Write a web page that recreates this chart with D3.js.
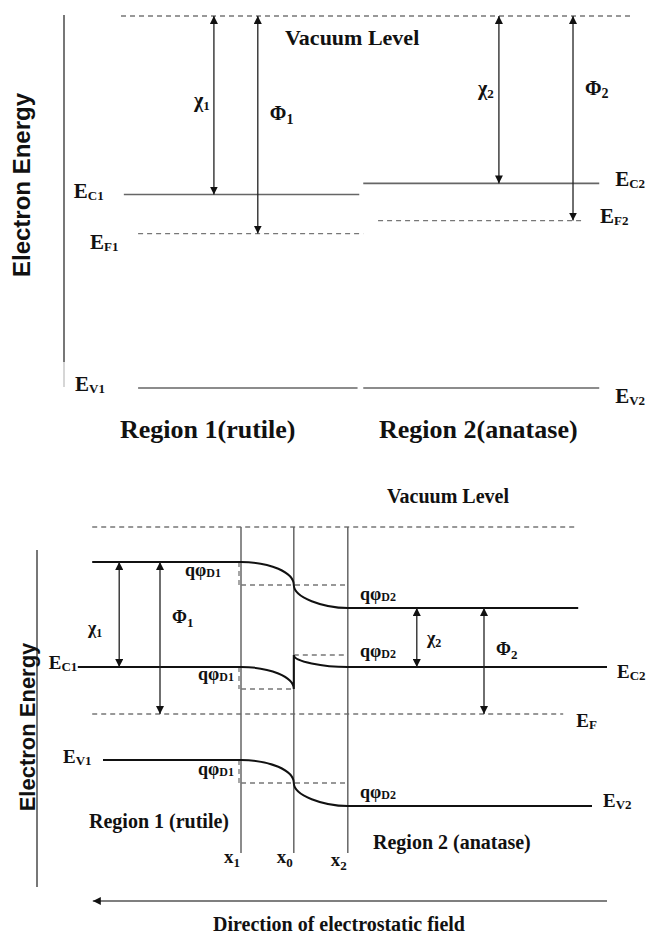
<!DOCTYPE html>
<html>
<head>
<meta charset="utf-8">
<script src="https://cdn.jsdelivr.net/npm/d3@7"></script>
<style>
  body { margin: 0; background: #fff; }
  text { font-family: "Liberation Serif", "Times New Roman", serif; font-weight: bold; fill: #111; }
  .axisTitle { font-family: "Liberation Sans", Arial, sans-serif; }
</style>
</head>
<body>
<div id="chart"></div>
<script>
// ---- top panel: separate regions, energies below vacuum (arb. units), position 0-100
var topLevelNames  = ["Vac", "EC1", "EF1", "EV1", "EC2", "EF2", "EV2"];
var topLevelEnergy = [0, -4.8, -5.85, -10, -4.5, -5.5, -10];
var topLevelStart  = [10, 10.5, 13, 13, 52.5, 55.1, 52.5];
var topLevelEnd    = [100, 51.8, 52.5, 51.5, 93.9, 91.4, 93.9];

var topArrowNames = ["χ1", "Φ1", "χ2", "Φ2"];
var topArrowPos   = [26.3, 34, 76.3, 89.3];
var topArrowFrom  = [0, 0, 0, 0];
var topArrowTo    = [-4.8, -5.85, -4.5, -5.5];

// ---- bottom panel: joined regions with band bending
var interfaceNames = ["x1", "x0", "x2"];
var interfacePos   = [34, 42.8, 51.8];

var bandNames      = ["Evac", "EC", "EV"];
var bandStart      = [9.2, 6.8, 11];
var bandEnd        = [90.2, 95, 92.5];
var bandLeft       = [-1.75, -7, -11.65];
var bandJunctionL  = [-2.9, -8.1, -12.8];
var bandJunctionR  = [-2.9, -6.4, -12.8];
var bandRight      = [-4.05, -7, -13.95];

var vacuumRef  = 0;       // reference vacuum line
var vacuumSpan = [9.2, 90.2];
var fermiLevel = -9.35;
var fermiSpan  = [9.2, 87.7];
var interfaceBottom = -16.3;

var botArrowNames = ["χ1", "Φ1", "χ2", "Φ2"];
var botArrowPos   = [13.7, 20.5, 63.3, 74.5];
var botArrowFrom  = [-1.75, -1.75, -4.05, -4.05];
var botArrowTo    = [-7, -9.35, -7, -9.35];

var fieldSpan = [9.3, 95];

var width = 648, height = 937;

var svg = d3.select("#chart").append("svg")
    .attr("width", width)
    .attr("height", height);

var defs = svg.append("defs");
function marker(id, orient) {
  defs.append("marker")
      .attr("id", id)
      .attr("viewBox", "0 0 10 10")
      .attr("refX", 10).attr("refY", 5)
      .attr("markerWidth", 8).attr("markerHeight", 8)
      .attr("markerUnits", "userSpaceOnUse")
      .attr("orient", orient)
    .append("path")
      .attr("d", "M0,0 L10,5 L0,10 Z")
      .attr("fill", "#111");
}
marker("head", "auto");
marker("headStart", "auto-start-reverse");

// label with subscript
function label(g, x, y, main, sub, fsMain, fsSub, dySub) {
  var t = g.append("text").attr("x", x).attr("y", y).style("font-size", fsMain + "px");
  t.append("tspan").text(main);
  if (sub) t.append("tspan").attr("dy", dySub).style("font-size", fsSub + "px").text(sub);
  return t;
}

// ================= TOP PANEL =================
var xT = d3.scaleLinear().domain([0, 100]).range([64, 634]);
var yT = d3.scaleLinear().domain([0, -10]).range([16, 388]);

var topG = svg.append("g");

// axis line
topG.append("line").attr("x1", 64).attr("x2", 64).attr("y1", 15).attr("y2", 362)
    .attr("stroke", "#555").attr("stroke-width", 1.6);
topG.append("line").attr("x1", 64).attr("x2", 64).attr("y1", 362).attr("y2", 387)
    .attr("stroke", "#ccc").attr("stroke-width", 1.6);

topG.append("text").attr("class", "axisTitle")
    .attr("transform", "translate(30,185) rotate(-90)")
    .attr("text-anchor", "middle")
    .style("font-size", "24px")
    .text("Electron Energy");

topLevelNames.forEach(function(n, i) {
  var dashed = n === "Vac" || n.indexOf("EF") === 0;
  topG.append("line")
      .attr("x1", xT(topLevelStart[i])).attr("x2", xT(topLevelEnd[i]))
      .attr("y1", yT(topLevelEnergy[i])).attr("y2", yT(topLevelEnergy[i]))
      .attr("stroke", dashed ? "#777" : "#666")
      .attr("stroke-width", dashed ? 1.3 : 1.6)
      .attr("stroke-dasharray", dashed ? "5,4" : null);
});

topArrowNames.forEach(function(n, i) {
  topG.append("line")
      .attr("x1", xT(topArrowPos[i])).attr("x2", xT(topArrowPos[i]))
      .attr("y1", yT(topArrowFrom[i])).attr("y2", yT(topArrowTo[i]))
      .attr("stroke", "#222").attr("stroke-width", 1.3)
      .attr("marker-start", "url(#headStart)")
      .attr("marker-end", "url(#head)");
});

// level labels
var iEC1 = 1, iEF1 = 2, iEV1 = 3, iEC2 = 4, iEF2 = 5, iEV2 = 6;
label(topG, xT(topLevelStart[iEC1]) - 50, yT(topLevelEnergy[iEC1]) + 3, "E", "C1", 21, 13, 2);
label(topG, xT(topLevelStart[iEF1]) - 48, yT(topLevelEnergy[iEF1]) + 15, "E", "F1", 21, 13, 2);
label(topG, xT(topLevelStart[iEV1]) - 63, yT(topLevelEnergy[iEV1]) + 3, "E", "V1", 21, 13, 2);
label(topG, xT(topLevelEnd[iEC2]) + 16, yT(topLevelEnergy[iEC2]) + 3, "E", "C2", 21, 13, 2);
label(topG, xT(topLevelEnd[iEF2]) + 15, yT(topLevelEnergy[iEF2]) + 2, "E", "F2", 21, 13, 2);
label(topG, xT(topLevelEnd[iEV2]) + 16, yT(topLevelEnergy[iEV2]) + 15, "E", "V2", 21, 13, 2);

// arrow labels
label(topG, xT(topArrowPos[0]) - 20, 107, "χ", "1", 20, 13, 3);
label(topG, xT(topArrowPos[1]) + 12, 120, "Φ", "1", 20, 14, 4);
label(topG, xT(topArrowPos[2]) - 21, 95, "χ", "2", 20, 13, 3);
label(topG, xT(topArrowPos[3]) + 12, 95, "Φ", "2", 20, 14, 3);

topG.append("text").attr("x", 285).attr("y", 45).style("font-size", "22px").text("Vacuum Level");
topG.append("text").attr("x", 120).attr("y", 438).style("font-size", "26px").text("Region 1(rutile)");
topG.append("text").attr("x", 379).attr("y", 438).style("font-size", "26px").text("Region 2(anatase)");

// ================= BOTTOM PANEL =================
var xB = d3.scaleLinear().domain([0, 100]).range([37, 637]);
var yB = d3.scaleLinear().domain([0, -15]).range([527, 827]);

var bot = svg.append("g");

bot.append("line").attr("x1", 37).attr("x2", 37).attr("y1", 550).attr("y2", 887)
    .attr("stroke", "#555").attr("stroke-width", 1.6);

bot.append("text").attr("class", "axisTitle")
    .attr("transform", "translate(35,727) rotate(-90)")
    .attr("text-anchor", "middle")
    .style("font-size", "22px")
    .text("Electron Energy");

var dashStyle = function(sel) {
  return sel.attr("stroke", "#777").attr("stroke-width", 1.3).attr("stroke-dasharray", "5,4");
};

// vacuum reference and Fermi level
dashStyle(bot.append("line")
    .attr("x1", xB(vacuumSpan[0])).attr("x2", xB(vacuumSpan[1]))
    .attr("y1", yB(vacuumRef)).attr("y2", yB(vacuumRef)));
dashStyle(bot.append("line")
    .attr("x1", xB(fermiSpan[0])).attr("x2", xB(fermiSpan[1]))
    .attr("y1", yB(fermiLevel)).attr("y2", yB(fermiLevel)));

// interfaces
interfacePos.forEach(function(p) {
  bot.append("line")
      .attr("x1", xB(p)).attr("x2", xB(p))
      .attr("y1", yB(vacuumRef)).attr("y2", yB(interfaceBottom))
      .attr("stroke", "#666").attr("stroke-width", 1.5);
});

var px1 = xB(interfacePos[0]), px0 = xB(interfacePos[1]), px2 = xB(interfacePos[2]);

// dashed guides at junction levels
bandNames.forEach(function(n, i) {
  if (bandJunctionL[i] === bandJunctionR[i]) {
    dashStyle(bot.append("line").attr("x1", px1).attr("x2", px2)
        .attr("y1", yB(bandJunctionL[i])).attr("y2", yB(bandJunctionL[i])));
  } else {
    dashStyle(bot.append("line").attr("x1", px1).attr("x2", px0)
        .attr("y1", yB(bandJunctionL[i])).attr("y2", yB(bandJunctionL[i])));
    dashStyle(bot.append("line").attr("x1", px0).attr("x2", px2)
        .attr("y1", yB(bandJunctionR[i])).attr("y2", yB(bandJunctionR[i])));
  }
  // short dashed verticals beside x1
  dashStyle(bot.append("line").attr("x1", px1 - 2).attr("x2", px1 - 2)
      .attr("y1", yB(bandLeft[i])).attr("y2", yB(bandJunctionL[i])));
});

// bent bands
var k = 0.55;
bandNames.forEach(function(n, i) {
  var yL = yB(bandLeft[i]), yJL = yB(bandJunctionL[i]), yJR = yB(bandJunctionR[i]), yR = yB(bandRight[i]);
  var p = d3.path();
  p.moveTo(xB(bandStart[i]), yL);
  p.lineTo(px1, yL);
  p.bezierCurveTo(px1 + k * (px0 - px1), yL, px0, yJL - k * (yJL - yL), px0, yJL);
  if (yJR !== yJL) p.lineTo(px0, yJR);
  p.bezierCurveTo(px0, yJR + k * (yR - yJR), px0 + k * (px2 - px0), yR, px2, yR);
  p.lineTo(xB(bandEnd[i]), yR);
  bot.append("path").attr("d", p.toString())
      .attr("fill", "none").attr("stroke", "#111").attr("stroke-width", 2);
});

// chi / phi arrows
botArrowNames.forEach(function(n, i) {
  bot.append("line")
      .attr("x1", xB(botArrowPos[i])).attr("x2", xB(botArrowPos[i]))
      .attr("y1", yB(botArrowFrom[i])).attr("y2", yB(botArrowTo[i]))
      .attr("stroke", "#222").attr("stroke-width", 1.3)
      .attr("marker-start", "url(#headStart)")
      .attr("marker-end", "url(#head)");
});

// field arrow
bot.append("line")
    .attr("x1", xB(fieldSpan[1])).attr("x2", xB(fieldSpan[0]))
    .attr("y1", 901).attr("y2", 901)
    .attr("stroke", "#555").attr("stroke-width", 1.6)
    .attr("marker-end", "url(#head)");

// labels
bot.append("text").attr("x", 448).attr("y", 503).attr("text-anchor", "middle")
    .style("font-size", "20px").text("Vacuum Level");

label(bot, 185, 576, "qφ", "D1", 18, 12, 1);
label(bot, 198, 680, "qφ", "D1", 18, 12, 1);
label(bot, 198, 775, "qφ", "D1", 18, 12, 1);
label(bot, 360, 600, "qφ", "D2", 18, 12, 1);
label(bot, 360, 657, "qφ", "D2", 18, 12, 1);
label(bot, 360, 798, "qφ", "D2", 18, 12, 1);

label(bot, xB(bandStart[1]) - 29, yB(bandLeft[1]) + 2, "E", "C1", 19, 13, 2);
label(bot, xB(bandStart[2]) - 40, yB(bandLeft[2]) + 3, "E", "V1", 19, 13, 2);
label(bot, xB(bandEnd[1]) + 10, yB(bandRight[1]) + 11, "E", "C2", 19, 13, 2);
label(bot, xB(fermiSpan[1]) + 13, yB(fermiLevel) + 13, "E", "F", 19, 13, 2);
label(bot, xB(bandEnd[2]) + 11, yB(bandRight[2]) + 1, "E", "V2", 19, 13, 2);

label(bot, 88, 634, "χ", "1", 18, 12, 3);
label(bot, 172, 623, "Φ", "1", 18, 13, 4);
label(bot, 427, 644, "χ", "2", 18, 12, 3);
label(bot, 496, 655, "Φ", "2", 18, 13, 4);

interfaceNames.forEach(function(n, i) {
  label(bot, xB(interfacePos[i]) - 17, i === 2 ? 866 : 863, "x", n.slice(1), 19, 13, 4);
});

bot.append("text").attr("x", 89).attr("y", 828).style("font-size", "20px").text("Region 1 (rutile)");
bot.append("text").attr("x", 373).attr("y", 849).style("font-size", "20px").text("Region 2 (anatase)");
bot.append("text").attr("x", 339).attr("y", 931).attr("text-anchor", "middle")
    .style("font-size", "20px").text("Direction of electrostatic field");
</script>
</body>
</html>
